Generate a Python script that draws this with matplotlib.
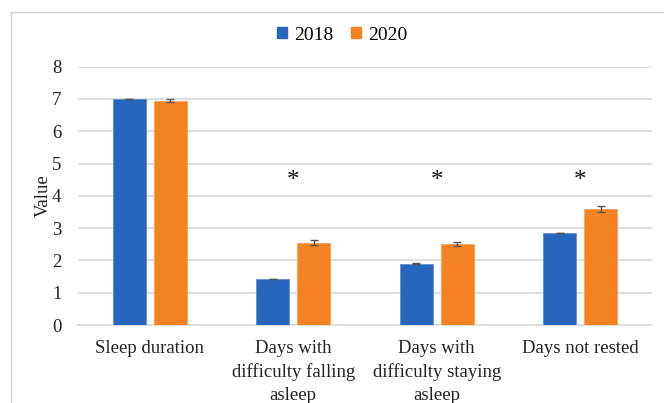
import matplotlib
matplotlib.use("Agg")
import matplotlib.pyplot as plt
from matplotlib.lines import Line2D
from matplotlib.patches import Patch
import numpy as np

plt.rcParams['font.family'] = ['Liberation Serif', 'DejaVu Serif']

categories = ["Sleep duration",
              "Days with\ndifficulty falling\nasleep",
              "Days with\ndifficulty staying\nasleep",
              "Days not rested"]
values_2018 = [7.00, 1.42, 1.90, 2.85]
values_2020 = [6.95, 2.55, 2.51, 3.60]
err_2018 = [0.01, 0.01, 0.01, 0.01]
err_2020 = [0.04, 0.07, 0.07, 0.09]
significant = [False, True, True, True]
star_y = 4.45
y_ticks = list(range(0, 9))

blue = "#2866BD"
orange = "#F58220"
grid_col = "#D9D9D9"

fig = plt.figure(figsize=(6.64, 4.03), dpi=100)
ax = fig.add_axes([78 / 664, 1 - 325 / 403, (652 - 78) / 664, (325 - 66.7) / 403])

x = np.arange(len(categories))
w = 0.23
off = 0.143
ax.bar(x - off, values_2018, w, color=blue, edgecolor="#5B8FD6", linewidth=0.6,
       yerr=err_2018, error_kw=dict(ecolor="#555555", elinewidth=1, capsize=3, capthick=1),
       zorder=3)
ax.bar(x + off, values_2020, w, color=orange, edgecolor="#F8A060", linewidth=0.6,
       yerr=err_2020, error_kw=dict(ecolor="#555555", elinewidth=1, capsize=3, capthick=1),
       zorder=3)

for xi, sig in zip(x, significant):
    if sig:
        ax.text(xi, star_y, "*", ha="center", va="center", fontsize=18, color="#111111")

ax.set_xlim(-0.5, len(categories) - 0.5)
ax.set_ylim(0, 8)
ax.set_yticks(y_ticks)
ax.yaxis.grid(True, color=grid_col, linewidth=1.2, zorder=0)
ax.set_axisbelow(True)
for s in ["top", "right", "left"]:
    ax.spines[s].set_visible(False)
ax.spines["bottom"].set_color(grid_col)
ax.spines["bottom"].set_linewidth(1.2)
ax.tick_params(axis="both", length=0, labelsize=13.5, colors="#222222")
ax.tick_params(axis="y", pad=12)
ax.tick_params(axis="x", pad=11)
ax.set_xticks(x)
ax.set_xticklabels(categories, linespacing=1.45)
ax.set_ylabel("Value", fontsize=13.5, color="#222222", labelpad=0)

handles = [Patch(color=blue, label="2018"), Patch(color=orange, label="2020")]
fig.legend(handles=handles, loc="center", bbox_to_anchor=(342 / 664, 1 - 35 / 403),
           ncol=2, frameon=False, fontsize=14, handlelength=0.55, handleheight=0.55,
           handletextpad=0.35, columnspacing=0.9)

# light frame around the chart area
fig.add_artist(Line2D([11 / 664, 11 / 664], [0, 1 - 12 / 403], color="#D0D0D0", linewidth=1))
fig.add_artist(Line2D([11 / 664, 1], [1 - 12 / 403, 1 - 12 / 403], color="#D0D0D0", linewidth=1))

fig.savefig("out.png", dpi=100)
